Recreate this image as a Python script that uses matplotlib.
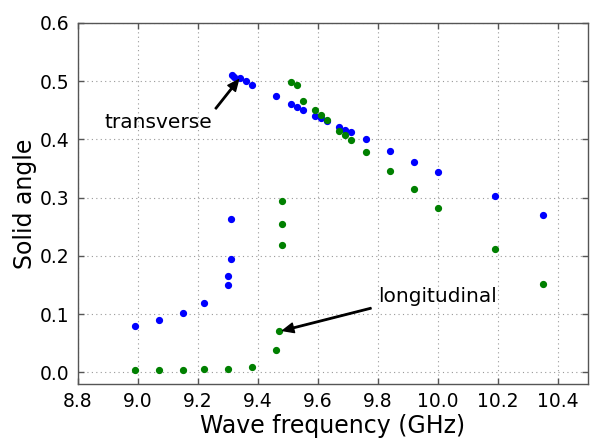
import matplotlib
matplotlib.use("Agg")
import matplotlib.pyplot as plt

# Transverse (blue) series
transverse_freq = [8.99, 9.07, 9.15, 9.22, 9.30, 9.30, 9.31, 9.31,
                   9.313, 9.322, 9.34, 9.36, 9.38, 9.46, 9.51, 9.53, 9.55,
                   9.59, 9.61, 9.63, 9.67, 9.69, 9.71, 9.76, 9.84, 9.92,
                   10.00, 10.19, 10.35]
transverse_angle = [0.080, 0.090, 0.102, 0.119, 0.150, 0.166, 0.195, 0.263,
                    0.511, 0.507, 0.505, 0.500, 0.494, 0.474, 0.461, 0.456, 0.451,
                    0.441, 0.436, 0.431, 0.422, 0.417, 0.412, 0.400, 0.381, 0.362,
                    0.344, 0.303, 0.270]

# Longitudinal (green) series
longitudinal_freq = [8.99, 9.07, 9.15, 9.22, 9.30, 9.38, 9.46, 9.47, 9.48, 9.48,
                     9.48, 9.51, 9.53, 9.55, 9.59, 9.61, 9.63, 9.67, 9.69, 9.71,
                     9.76, 9.84, 9.92, 10.00, 10.19, 10.35]
longitudinal_angle = [0.004, 0.004, 0.004, 0.005, 0.006, 0.009, 0.039, 0.071, 0.219, 0.254,
                      0.295, 0.499, 0.493, 0.466, 0.451, 0.442, 0.434, 0.415, 0.407, 0.399,
                      0.379, 0.346, 0.315, 0.283, 0.211, 0.151]

x_ticks = [8.8, 9.0, 9.2, 9.4, 9.6, 9.8, 10.0, 10.2, 10.4]
y_ticks = [0.0, 0.1, 0.2, 0.3, 0.4, 0.5, 0.6]

fig = plt.figure(figsize=(5.92, 4.38), dpi=100)
ax = fig.add_axes([0.131, 0.1233, 0.862, 0.8242])

ax.plot(transverse_freq, transverse_angle, 'o', color='#0000ff', mec='#0000ff', ms=4.2, ls='none')
ax.plot(longitudinal_freq, longitudinal_angle, 'o', color='#008000', mec='#008000', ms=4.2, ls='none')

ax.set_xlim(8.8, 10.5)
ax.set_ylim(-0.02, 0.6)
ax.set_xticks(x_ticks)
ax.set_xticklabels([f"{t:.1f}" for t in x_ticks])
ax.set_yticks(y_ticks)
ax.set_yticklabels([f"{t:.1f}" for t in y_ticks])

ax.grid(True, color='#999999', linestyle=(0, (1, 3)), linewidth=0.8)
ax.set_axisbelow(True)
for s in ax.spines.values():
    s.set_color('#555555')
    s.set_linewidth(1.0)
ax.tick_params(direction='in', top=True, right=True, length=4, width=1,
               color='#555555', labelsize=13.5, pad=6)

ax.set_xlabel('Wave frequency (GHz)', fontsize=17, labelpad=2)
ax.set_ylabel('Solid angle', fontsize=17, labelpad=2)

arrow = dict(facecolor='black', edgecolor='black', width=1.0, headwidth=7, headlength=8, shrink=0.04)
ax.annotate('transverse', xy=(9.34, 0.505), xytext=(8.89, 0.42), fontsize=14.5,
            arrowprops=arrow)
ax.annotate('longitudinal', xy=(9.47, 0.07), xytext=(9.8, 0.12), fontsize=14.5,
            arrowprops=arrow)

fig.savefig('out.png', dpi=100)
